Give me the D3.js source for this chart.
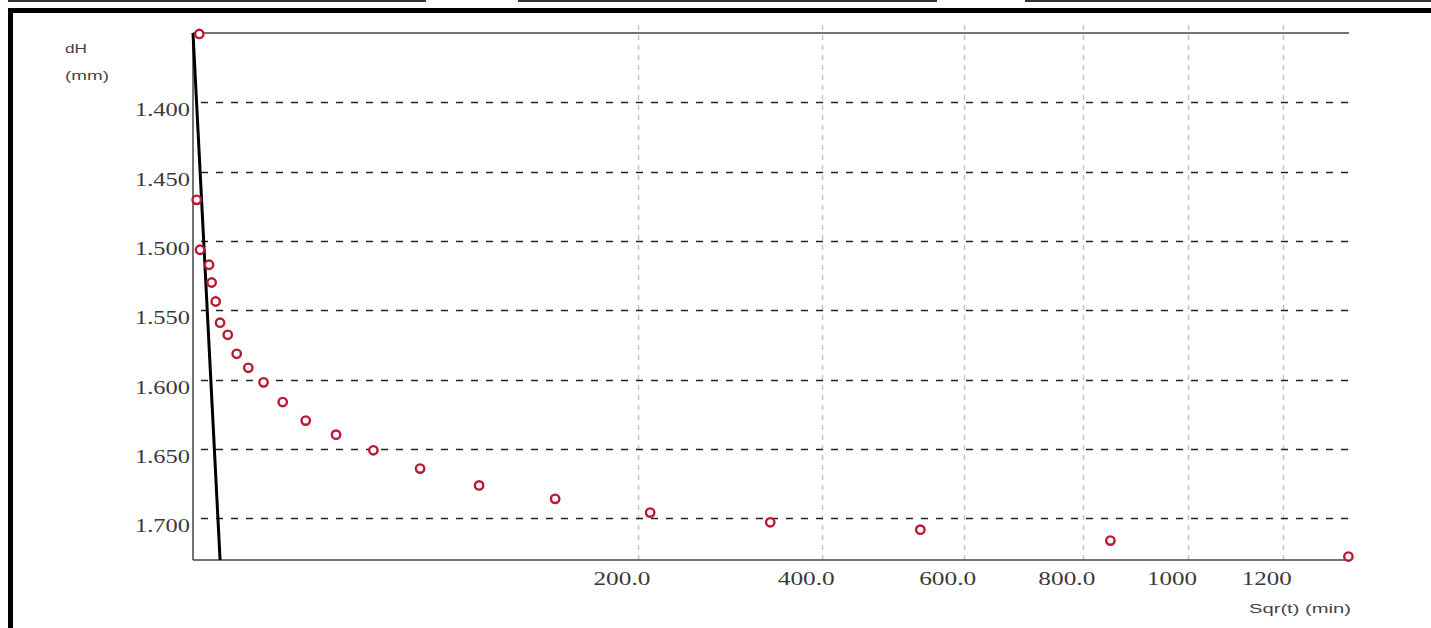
<!DOCTYPE html>
<html>
<head>
<meta charset="utf-8">
<script src="https://cdn.jsdelivr.net/npm/d3@7"></script>
<style>
  html, body { margin: 0; padding: 0; background: #fff; }
  svg { display: block; }
</style>
</head>
<body>
<svg id="chart" width="1431" height="628"></svg>
<script>
// ---- data ----
const timeMin = [0.04, 0.014, 0.05, 0.26, 0.35, 0.52, 0.74, 1.22, 1.93, 3.09, 5.03, 8.13, 12.84, 20.67, 32.87, 52.1, 82.7, 132.5, 211.1, 336.6, 534.4, 850.2, 1348.6];
const dH = [1.3507, 1.4703, 1.5063, 1.5171, 1.5299, 1.5436, 1.5589, 1.5676, 1.5813, 1.5914, 1.6019, 1.6161, 1.6295, 1.6396, 1.6509, 1.6641, 1.6762, 1.6859, 1.6958, 1.7028, 1.7081, 1.7160, 1.7275];
const tangentT = [0, 0.74];
const tangentH = [1.35, 1.73];
const yTicks = [1.40, 1.45, 1.50, 1.55, 1.60, 1.65, 1.70];
const yTickLabels = ["1.400", "1.450", "1.500", "1.550", "1.600", "1.650", "1.700"];
const xTicks = [200, 400, 600, 800, 1000, 1200];
const xTickLabels = ["200.0", "400.0", "600.0", "800.0", "1000", "1200"];
const xDomain = [0, 1350];
const yDomain = [1.35, 1.73];

// ---- layout ----
const L = 193, R = 1349, T = 33, B = 560;
const svg = d3.select("#chart");
const x = d3.scaleSqrt().domain(xDomain).range([L, R]);
const y = d3.scaleLinear().domain(yDomain).range([T, B]);

// window frame
const frame = svg.append("g");
[[8, 426], [518, 937], [1025, 1431]].forEach(s => {
  frame.append("line").attr("x1", s[0]).attr("x2", s[1]).attr("y1", 1).attr("y2", 1)
    .attr("stroke", "#333").attr("stroke-width", 2);
});
frame.append("rect").attr("x", 8).attr("y", 8).attr("width", 1423).attr("height", 5).attr("fill", "#000");
frame.append("rect").attr("x", 8).attr("y", 8).attr("width", 5).attr("height", 620).attr("fill", "#000");

// vertical grid (light)
svg.append("g").selectAll("line").data(xTicks).join("line")
  .attr("x1", d => Math.round(x(d)) + 0.5).attr("x2", d => Math.round(x(d)) + 0.5)
  .attr("y1", T - 8).attr("y2", B)
  .attr("stroke", "#c4c4c4").attr("stroke-width", 1.5).attr("stroke-dasharray", "5,5");

// horizontal grid (dark dashed)
svg.append("g").selectAll("line").data(yTicks).join("line")
  .attr("x1", L + 8).attr("x2", R)
  .attr("y1", d => Math.round(y(d)) + 0.5).attr("y2", d => Math.round(y(d)) + 0.5)
  .attr("stroke", "#222").attr("stroke-width", 1.3).attr("stroke-dasharray", "7,8");

// axes frame lines
const ax = svg.append("g").attr("stroke", "#444").attr("stroke-width", 1.5);
ax.append("line").attr("x1", L).attr("x2", R).attr("y1", T).attr("y2", T);
ax.append("line").attr("x1", L).attr("x2", L).attr("y1", T).attr("y2", B);
ax.append("line").attr("x1", L).attr("x2", R).attr("y1", B).attr("y2", B);

// y tick labels
svg.append("g").selectAll("text").data(yTicks).join("text")
  .attr("x", L - 3).attr("y", d => y(d) + 14)
  .attr("text-anchor", "end")
  .attr("font-family", "Liberation Serif, serif").attr("font-size", 18)
  .attr("fill", "#3a3a3a")
  .attr("textLength", 55).attr("lengthAdjust", "spacingAndGlyphs")
  .text((d, i) => yTickLabels[i]);

// x tick labels
svg.append("g").selectAll("text").data(xTicks).join("text")
  .attr("x", d => x(d) - 16).attr("y", 585)
  .attr("text-anchor", "middle")
  .attr("font-family", "Liberation Serif, serif").attr("font-size", 18)
  .attr("fill", "#3a3a3a")
  .attr("textLength", (d, i) => xTickLabels[i].length === 5 ? 57 : 50)
  .attr("lengthAdjust", "spacingAndGlyphs")
  .text((d, i) => xTickLabels[i]);

// axis titles
const titleFont = "Liberation Sans, Arial, sans-serif";
svg.append("text").attr("x", 65).attr("y", 53).attr("font-family", titleFont).attr("font-size", 12)
  .attr("fill", "#444").attr("textLength", 22).attr("lengthAdjust", "spacingAndGlyphs").text("dH");
svg.append("text").attr("x", 65).attr("y", 80).attr("font-family", titleFont).attr("font-size", 13)
  .attr("fill", "#444").attr("textLength", 44).attr("lengthAdjust", "spacingAndGlyphs").text("(mm)");
svg.append("text").attr("x", 1249).attr("y", 613).attr("font-family", titleFont).attr("font-size", 13)
  .attr("fill", "#444").attr("textLength", 102).attr("lengthAdjust", "spacingAndGlyphs").text("Sqr(t) (min)");

// tangent line
const tangent = tangentT.map((t, i) => [t, tangentH[i]]);
svg.append("path").datum(tangent)
  .attr("d", d3.line().x(d => x(d[0])).y(d => y(d[1])))
  .attr("stroke", "#000").attr("stroke-width", 3).attr("fill", "none");

// data points
const pts = timeMin.map((t, i) => [t, dH[i]]);
svg.append("g").selectAll("circle").data(pts).join("circle")
  .attr("cx", d => x(d[0])).attr("cy", d => y(d[1])).attr("r", 4.2)
  .attr("fill", "#fff").attr("stroke", "#b81a35").attr("stroke-width", 2.4);
</script>
</body>
</html>
